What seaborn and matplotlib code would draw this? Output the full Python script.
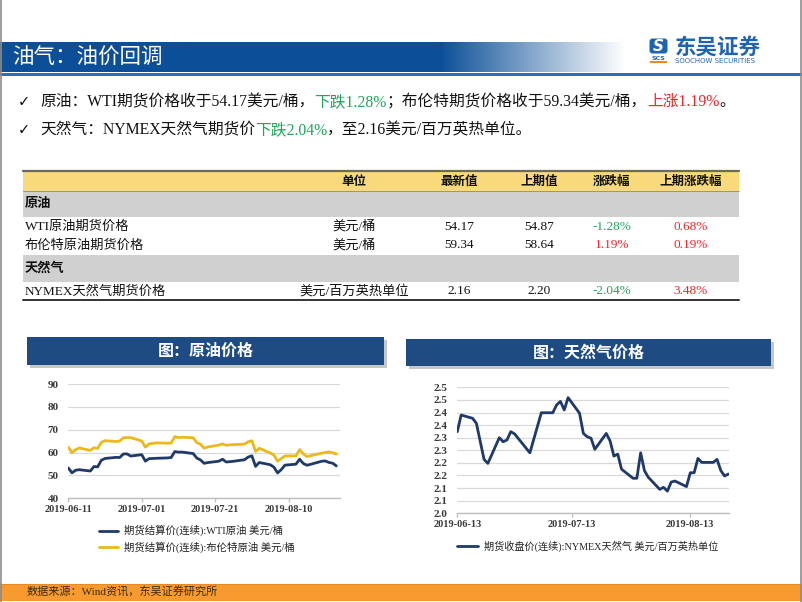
import numpy as np
import pandas as pd
import matplotlib
matplotlib.use("Agg")
import matplotlib.pyplot as plt
import matplotlib.dates as mdates
from matplotlib.patches import Rectangle, FancyBboxPatch
from matplotlib.colors import to_rgb
import seaborn as sns

# ---------------- data ----------------
oil_dates = [
    "2019-06-11", "2019-06-12", "2019-06-13", "2019-06-14", "2019-06-17", "2019-06-18", "2019-06-19",
    "2019-06-20", "2019-06-21", "2019-06-24", "2019-06-25", "2019-06-26", "2019-06-27", "2019-06-28",
    "2019-07-01", "2019-07-02", "2019-07-03", "2019-07-05", "2019-07-08", "2019-07-09", "2019-07-10",
    "2019-07-11", "2019-07-12", "2019-07-15", "2019-07-16", "2019-07-17", "2019-07-18", "2019-07-19",
    "2019-07-22", "2019-07-23", "2019-07-24", "2019-07-25", "2019-07-26", "2019-07-29", "2019-07-30",
    "2019-07-31", "2019-08-01", "2019-08-02", "2019-08-05", "2019-08-06", "2019-08-07", "2019-08-08",
    "2019-08-09", "2019-08-12", "2019-08-13", "2019-08-14", "2019-08-15", "2019-08-16", "2019-08-19",
    "2019-08-20", "2019-08-21", "2019-08-22", "2019-08-23",
]
wti = [53.27, 51.14, 52.28, 52.51, 51.93, 53.90, 53.76, 56.65, 57.43, 57.90, 57.83, 59.38, 59.43, 58.47,
       59.09, 56.25, 57.34, 57.51, 57.66, 57.83, 60.43, 60.20, 60.21, 59.58, 57.62, 56.78, 55.30, 55.63,
       56.22, 57.09, 55.88, 56.02, 56.20, 56.87, 58.05, 58.58,
       53.95, 55.66, 54.69, 53.63, 51.09, 52.54, 54.50, 54.93, 57.10, 55.23, 54.47, 54.87, 56.21, 56.34,
       55.68, 55.35, 54.17]
brent = [62.29, 59.97, 61.31, 62.01, 60.94, 62.14, 61.82, 64.45, 65.20, 64.86, 65.05, 66.49, 66.55, 66.55,
         65.06, 62.40, 63.82, 64.23, 64.11, 64.16, 67.01, 66.52, 66.72, 66.48, 64.35, 63.66, 61.93, 62.47,
         63.26, 63.83, 63.18, 63.39, 63.46, 63.71, 64.72, 65.17,
         60.50, 61.89, 59.81, 58.94, 56.23, 57.38, 58.53, 58.57, 61.30, 59.48, 58.23, 58.64, 59.74, 60.03,
         60.30, 59.92, 59.34]
oil_names = ["期货结算价(连续):WTI原油 美元/桶", "期货结算价(连续):布伦特原油 美元/桶"]
oil_ticks = ["2019-06-11", "2019-07-01", "2019-07-21", "2019-08-10"]
oil_yticks = [40, 50, 60, 70, 80, 90]

gas_dates = [
    "2019-06-13", "2019-06-14", "2019-06-17", "2019-06-18", "2019-06-20", "2019-06-21", "2019-06-24",
    "2019-06-25", "2019-06-26", "2019-06-27", "2019-06-28", "2019-07-02", "2019-07-05", "2019-07-08",
    "2019-07-09", "2019-07-10", "2019-07-11", "2019-07-12", "2019-07-15", "2019-07-16", "2019-07-17",
    "2019-07-18", "2019-07-19", "2019-07-22", "2019-07-23", "2019-07-24", "2019-07-25", "2019-07-26",
    "2019-07-29", "2019-07-30", "2019-07-31", "2019-08-01", "2019-08-02", "2019-08-05", "2019-08-06",
    "2019-08-07", "2019-08-08", "2019-08-09", "2019-08-12", "2019-08-13", "2019-08-14", "2019-08-15",
    "2019-08-16", "2019-08-19", "2019-08-20", "2019-08-21", "2019-08-22", "2019-08-23",
]
gas = [2.324, 2.390, 2.377, 2.357, 2.214, 2.198, 2.300, 2.284, 2.291, 2.324, 2.315, 2.240, 2.399, 2.399,
       2.430, 2.444, 2.410, 2.459, 2.397, 2.317, 2.304, 2.298, 2.254, 2.317, 2.287, 2.227, 2.235, 2.175,
       2.139, 2.139, 2.240, 2.169, 2.143, 2.095, 2.103, 2.088, 2.124, 2.128, 2.106, 2.161, 2.161, 2.218,
       2.202, 2.202, 2.214, 2.169, 2.148, 2.156]
gas_name = "期货收盘价(连续):NYMEX天然气 美元/百万英热单位"
gas_ticks = ["2019-06-13", "2019-07-13", "2019-08-13"]
gas_yticks = [2.00, 2.05, 2.10, 2.15, 2.20, 2.25, 2.30, 2.35, 2.40, 2.45, 2.50]
gas_ytick_labels = ["2.0", "2.1", "2.1", "2.2", "2.2", "2.3", "2.3", "2.4", "2.4", "2.5", "2.5"]

table_cols = ["单位", "最新值", "上期值", "涨跌幅", "上期涨跌幅"]
table_groups = ["原油", "天然气"]
table_rows = [
    ("WTI原油期货价格", "美元/桶", "54.17", "54.87", "-1.28%", "0.68%"),
    ("布伦特原油期货价格", "美元/桶", "59.34", "58.64", "1.19%", "0.19%"),
    ("NYMEX天然气期货价格", "美元/百万英热单位", "2.16", "2.20", "-2.04%", "3.48%"),
]

# ---------------- style ----------------
sns.set_theme(style="white")
FAM = ["Liberation Serif", "Noto Sans CJK SC", "DejaVu Sans"]
SANS = ["Noto Sans CJK SC", "DejaVu Sans"]
plt.rcParams["font.family"] = FAM

NAVY = "#1F3A68"
GOLD = "#EDB81A"
GREEN = "#1FA55A"
RED = "#F0242B"
BOXBLUE = "#1E4B82"

W, H = 802, 602
fig = plt.figure(figsize=(W / 100, H / 100), dpi=100)
bg = fig.add_axes([0, 0, 1, 1], zorder=0)
bg.axis("off")
renderer = fig.canvas.get_renderer()

# header band with gradient
blue = np.array(to_rgb("#0C4F98"))
xs = np.arange(W) + 0.5
t = np.clip((xs - 440) / (625 - 440), 0, 1)
row = blue[None, :] * (1 - t)[:, None] + np.ones(3)[None, :] * t[:, None]
bg.imshow(row[None, :, :], extent=(0, W, 72, 42), aspect="auto", zorder=1, interpolation="bilinear")
bg.add_patch(Rectangle((0, 73), W, 2.5, color="#2C6DB5", zorder=2, lw=0))
bg.text(12, 58, "油气：油价回调", color="white", fontsize=15.5, va="center", ha="left",
        family=SANS, zorder=3)

# logo
bg.add_patch(FancyBboxPatch((650, 39), 17, 14, boxstyle="round,pad=0.5,rounding_size=3",
                            color="#1F64B0", zorder=3, lw=0))
bg.text(658.5, 46.5, "S", color="white", fontsize=11, fontweight="bold", style="italic",
        ha="center", va="center", family=["DejaVu Sans"], zorder=4)
bg.text(658.5, 58, "SCS", color="#1F64B0", fontsize=4.5, fontweight="bold", ha="center",
        va="center", family=["DejaVu Sans"], zorder=4)
bg.add_patch(Rectangle((650, 61), 17, 1.5, color="#F08A1C", zorder=3, lw=0))
bg.text(675, 47, "东吴证券", color="#1F64B0", fontsize=15.5, fontweight="bold", ha="left",
        va="center", family=SANS, zorder=3)
bg.text(675, 61, "SOOCHOW SECURITIES", color="#1F64B0", fontsize=5.0, ha="left",
        va="center", family=["DejaVu Sans"], zorder=3)


def chain(x, y, pieces, size, **kw):
    for s, c in pieces:
        tt = bg.text(x, y, s, color=c, fontsize=size, va="center", ha="left", zorder=5, **kw)
        x += tt.get_window_extent(renderer=renderer).width
    return x


# bullets
bg.text(18, 102, "✓", fontsize=10.5, family=["DejaVu Sans"], va="center", ha="left", color="#111")
bg.text(18, 130, "✓", fontsize=10.5, family=["DejaVu Sans"], va="center", ha="left", color="#111")
chain(40, 102, [("原油：WTI期货价格收于54.17美元/桶，", "#111"), ("下跌1.28%", GREEN),
                ("；布伦特期货价格收于59.34美元/桶，", "#111"), ("上涨1.19%", RED), ("。", "#111")], 11.3)
chain(40, 130, [("天然气：NYMEX天然气期货价", "#111"), ("下跌2.04%", GREEN),
                ("，至2.16美元/百万英热单位。", "#111")], 11.3)

# table
TX0, TX1 = 23, 739
col_x = [354, 459, 539, 612, 691]
bg.add_patch(Rectangle((TX0, 171), TX1 - TX0, 20, color="#F8D97C", lw=0, zorder=2))
bg.add_patch(Rectangle((TX0, 191), TX1 - TX0, 26, color="#D0D0D0", lw=0, zorder=2))
bg.add_patch(Rectangle((TX0, 255), TX1 - TX0, 27, color="#D0D0D0", lw=0, zorder=2))
bg.plot([TX0, TX1], [171, 171], color="#6E6A5A", lw=1.6, zorder=3)
bg.plot([TX0, TX1], [191, 191], color="#8A8A8A", lw=0.6, zorder=3)
bg.plot([TX0, TX1], [300, 300], color="#333333", lw=1.4, zorder=3)
for cx, name in zip(col_x, table_cols):
    bg.text(cx, 181.5, name, fontsize=9, fontweight="bold", ha="center", va="center", zorder=4, color="#111")
bg.text(25, 204, table_groups[0], fontsize=9.5, fontweight="bold", ha="left", va="center", zorder=4, color="#111")
bg.text(25, 268.5, table_groups[1], fontsize=9.5, fontweight="bold", ha="left", va="center", zorder=4, color="#111")
row_y = [226.5, 245.5, 291.5]
for ry, r in zip(row_y, table_rows):
    bg.text(25, ry, r[0], fontsize=9.5, ha="left", va="center", zorder=4, color="#111")
    bg.text(col_x[0], ry, r[1], fontsize=9.5, ha="center", va="center", zorder=4, color="#111")
    bg.text(col_x[1], ry, r[2], fontsize=9.5, ha="center", va="center", zorder=4, color="#111")
    bg.text(col_x[2], ry, r[3], fontsize=9.5, ha="center", va="center", zorder=4, color="#111")
    for j, v in ((3, r[4]), (4, r[5])):
        bg.text(col_x[j], ry, v, fontsize=9.5, ha="center", va="center", zorder=4,
                color=GREEN if v.startswith("-") else RED)

# chart title boxes
for (x0, y0, x1, y1, txt) in [(27, 337, 384, 365, "图：原油价格"), (406, 339, 771, 366, "图：天然气价格")]:
    bg.add_patch(Rectangle((x0 + 3, y0 + 3), x1 - x0, y1 - y0, color="#B9B9B9", lw=0, zorder=2, alpha=0.8))
    bg.add_patch(Rectangle((x0, y0), x1 - x0, y1 - y0, color=BOXBLUE, lw=0, zorder=3))
    bg.text((x0 + x1) / 2, (y0 + y1) / 2, txt, color="white", fontsize=11.5, fontweight="bold",
            ha="center", va="center", family=SANS, zorder=4)

# footer
bg.add_patch(Rectangle((0, 584), W, 17, color="#F79B30", lw=0, zorder=2))
bg.plot([0, W], [584, 584], color="#E88A20", lw=0.8, zorder=3)
bg.text(27, 592.5, "数据来源：Wind资讯，东吴证券研究所", fontsize=8, color="#3A2A10", ha="left",
        va="center", zorder=4)

# frame
bg.plot([0.8, 0.8], [0, H], color="#8C8C8C", lw=1.2, zorder=6)
bg.plot([W - 1.2, W - 1.2], [0, H], color="#8C8C8C", lw=1.2, zorder=6)

bg.set_xlim(0, W)
bg.set_ylim(H, 0)


def style_axes(ax):
    for s in ["left", "right", "top"]:
        ax.spines[s].set_visible(False)
    ax.spines["bottom"].set_color("#BFBFBF")
    ax.spines["bottom"].set_linewidth(1.0)
    ax.grid(axis="y", color="#D9D9D9", linewidth=0.9)
    ax.grid(axis="x", visible=False)
    ax.set_xlabel("")
    ax.set_ylabel("")
    ax.tick_params(axis="x", which="major", length=3, color="#BFBFBF", width=1, pad=1.5,
                   bottom=True, labelsize=7.5, labelcolor="#3A3A3A")
    ax.tick_params(axis="y", length=0, pad=7, labelsize=8, labelcolor="#3A3A3A")
    for lab in ax.get_xticklabels() + ax.get_yticklabels():
        lab.set_fontweight("bold")
        lab.set_family(["Liberation Serif"])
    ax.set_facecolor("none")


def fig_rect(x0, x1, ytop, ybot):
    return [x0 / W, 1 - ybot / H, (x1 - x0) / W, (ybot - ytop) / H]


# oil chart
oil_df = pd.DataFrame({
    "date": pd.to_datetime(oil_dates * 2),
    "value": wti + brent,
    "series": [oil_names[0]] * len(wti) + [oil_names[1]] * len(brent),
})
ax1 = fig.add_axes(fig_rect(68.3, 340, 384, 498.3), zorder=2)
sns.lineplot(data=oil_df, x="date", y="value", hue="series", palette=[NAVY, GOLD],
             linewidth=2.0, ax=ax1)
ax1.set_ylim(40, 90)
ax1.set_yticks(oil_yticks)
ax1.set_xlim(pd.Timestamp(oil_dates[0]), pd.Timestamp("2019-08-24"))
ax1.set_xticks(pd.to_datetime(oil_ticks))
ax1.xaxis.set_major_formatter(mdates.DateFormatter("%Y-%m-%d"))
h, l = ax1.get_legend_handles_labels()
ax1.legend(h, l, loc="upper left", bbox_to_anchor=(99 / W, 1 - 525 / H), bbox_transform=fig.transFigure,
           frameon=False, fontsize=7.5, handlelength=1.85, handletextpad=0.55, labelspacing=0.45,
           borderpad=0, borderaxespad=0)
for txt in ax1.get_legend().get_texts():
    txt.set_color("#222222")
style_axes(ax1)

# gas chart
gas_df = pd.DataFrame({"date": pd.to_datetime(gas_dates), "value": gas, "series": [gas_name] * len(gas)})
ax2 = fig.add_axes(fig_rect(457.3, 728.5, 387.3, 513.3), zorder=2)
sns.lineplot(data=gas_df, x="date", y="value", hue="series", palette=[NAVY], linewidth=2.0, ax=ax2)
ax2.set_ylim(2.0, 2.5)
ax2.set_yticks(gas_yticks)
ax2.set_yticklabels(gas_ytick_labels)
ax2.set_xlim(pd.Timestamp(gas_dates[0]), pd.Timestamp(gas_dates[-1]))
ax2.set_xticks(pd.to_datetime(gas_ticks))
ax2.xaxis.set_major_formatter(mdates.DateFormatter("%Y-%m-%d"))
h, l = ax2.get_legend_handles_labels()
ax2.legend(h, l, loc="upper left", bbox_to_anchor=(457 / W, 1 - 540.5 / H), bbox_transform=fig.transFigure,
           frameon=False, fontsize=7.3, handlelength=2.1, handletextpad=0.55, borderpad=0, borderaxespad=0)
for txt in ax2.get_legend().get_texts():
    txt.set_color("#222222")
style_axes(ax2)

fig.savefig("out.png", dpi=100)
